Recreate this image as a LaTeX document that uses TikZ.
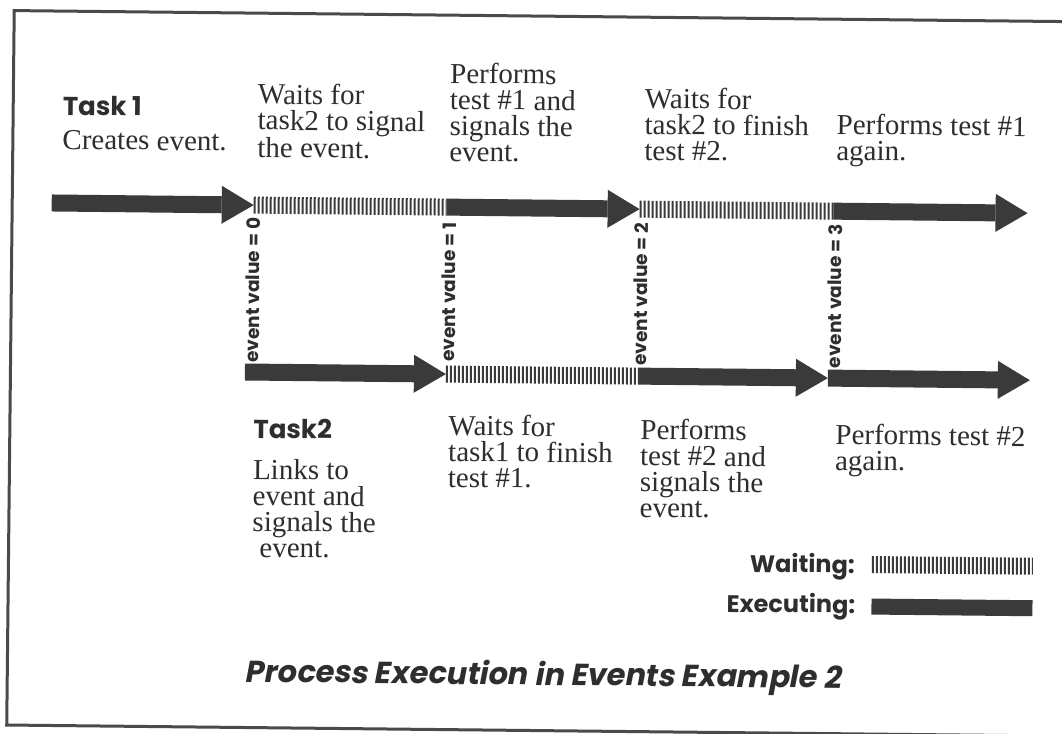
\documentclass[tikz,border=0pt]{standalone}
\usepackage{fontspec}
\setmainfont{Liberation Serif}
\newfontfamily\geosans{Poppins}
\newfontfamily\geosansslant{Poppins}[FakeSlant=0.18]
\usetikzlibrary{arrows.meta}
\definecolor{ink}{HTML}{2E2E2E}
\definecolor{bar}{HTML}{3A3A3A}
\definecolor{framegray}{HTML}{4A4A4A}

\begin{document}
\begin{tikzpicture}[x=1pt,y=-1pt,
  exec/.style={draw=bar, line width=17pt, -{Triangle[length=32pt,width=38pt,line width=0pt]}},
  waitbar/.style={draw=bar, line width=17pt, dash pattern=on 2pt off 2pt},
  % multi-line notes are placed by the baseline of their last line
  note/.style={inner sep=0pt, anchor=base west, align=left, text=ink, font=\fontsize{29}{26}\selectfont},
  head/.style={inner sep=0pt, anchor=base west, text=ink, font=\geosans\bfseries\fontsize{26}{30}\selectfont},
  evlabel/.style={inner sep=0pt, rotate=90, text=ink, font=\geosans\bfseries\fontsize{18.5}{20}\selectfont},
  legend/.style={inner sep=0pt, anchor=base east, text=ink, font=\geosans\bfseries\fontsize{24}{28}\selectfont},
  titletext/.style={inner sep=0pt, anchor=base, text=ink, font=\geosansslant\bfseries\fontsize{30.5}{34}\selectfont},
]
\useasboundingbox (0,0) rectangle (1062,733);
\fill[white] (0,0) rectangle (1062,733);
\clip (0,0) rectangle (1062,733);

\begin{scope}[rotate around={-0.6:(531,366)}, every node/.append style={transform shape}]
  % page frame
  \draw[framegray, line width=3pt] (1100,16) -- (10.5,16) -- (10.5,730.5) -- (1100,730.5);

  % time line of task 1
  \coordinate (t0) at (50,208);
  \coordinate (t1) at (252,208);
  \coordinate (t2) at (445,208);
  \coordinate (t3) at (638,208);
  \coordinate (t4) at (832,208);
  \coordinate (t5) at (1026,208);
  % time line of task 2
  \coordinate (b0) at (245,375);
  \coordinate (b1) at (446,375);
  \coordinate (b2) at (640,375);
  \coordinate (b3) at (828,375);
  \coordinate (b4) at (1030,375);

  \draw[exec] (t0) -- (t1);
  \draw[waitbar] (t1) -- (t2);
  \draw[exec] (t2) -- (t3);
  \draw[waitbar] (t3) -- (t4);
  \draw[exec] (t4) -- (t5);

  \draw[exec] (b0) -- (b1);
  \draw[waitbar] (b1) -- (b2);
  \draw[exec] (b2) -- (b3);
  \draw[exec] (b3) -- (b4);

  % event values between the two lines
  \node[evlabel] (ev0) at (252,293) {event value = 0};
  \node[evlabel] (ev1) at (448,293) {event value = 1};
  \node[evlabel] (ev2) at (640,293) {event value = 2};
  \node[evlabel] (ev3) at (834,293) {event value = 3};

  % task 1 notes
  \node[head] (task1) at (60,120) {Task 1};
  \node[note] (create) at (60,154) {Creates event.};
  \node[note] (wait1) at (255,160) {Waits for\\task2 to signal\\the event.};
  \node[note] (perf1) at (447,162) {Performs\\test \#1 and\\signals the\\event.};
  \node[note] (wait2) at (642,159) {Waits for\\task2 to finish\\test \#2.};
  \node[note] (perf1b) at (834,157) {Performs test \#1\\again.};

  % task 2 notes
  \node[head] (task2) at (254,441) {Task2};
  \node[note] (link) at (254,560) {Links to\\event and\\signals the\\\ event.};
  \node[note] (wait3) at (449,488) {Waits for\\task1 to finish\\test \#1.};
  \node[note] (perf2) at (641,516) {Performs\\test \#2 and\\signals the\\event.};
  \node[note] (perf2b) at (836,467) {Performs test \#2\\again.};

  % legend
  \node[legend] (legwait) at (857,570) {Waiting:};
  \node[legend] (legexec) at (858,610) {Executing:};
  \coordinate (lw0) at (874,561);
  \coordinate (lw1) at (1035,561);
  \coordinate (le0) at (874,603);
  \coordinate (le1) at (1035,603);
  \draw[waitbar] (lw0) -- (lw1);
  \draw[draw=bar, line width=16pt] (le0) -- (le1);

  % caption
  \node[titletext] (title) at (546,685) {Process Execution in Events Example 2};
\end{scope}
\end{tikzpicture}
\end{document}
